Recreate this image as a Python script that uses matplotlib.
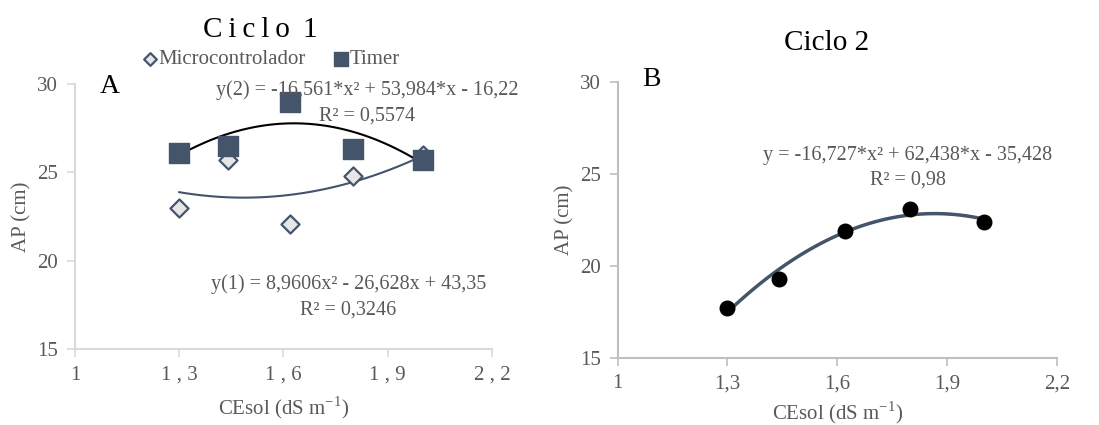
import matplotlib.pyplot as plt
import numpy as np

plt.rcParams['font.family'] = ['Liberation Serif', 'DejaVu Serif']

# Ciclo 1
ce_levels = [1.3, 1.44, 1.62, 1.8, 2.0]
ap_micro = [23.0, 25.7, 22.1, 24.8, 26.0]
ap_timer = [26.1, 26.5, 29.0, 26.3, 25.7]
coef_micro = [8.9606, -26.628, 43.35]
coef_timer = [-16.561, 53.984, -16.22]

# Ciclo 2
ap_ciclo2 = [17.7, 19.3, 21.9, 23.1, 22.4]
coef_ciclo2 = [-16.727, 62.438, -35.428]

x_ticks = [1, 1.3, 1.6, 1.9, 2.2]
x_labels_1 = ['1', '1 , 3', '1 , 6', '1 , 9', '2 , 2']
x_labels_2 = ['1', '1,3', '1,6', '1,9', '2,2']
y_ticks = [15, 20, 25, 30]

txt = '#595959'
dark = '#44546a'

fig = plt.figure(figsize=(10.99, 4.25), dpi=100)
ax1 = fig.add_axes([0.0682, 0.1788, 0.3795, 0.6236])
ax2 = fig.add_axes([0.5620, 0.1584, 0.3997, 0.6487])


def style(ax, labels, spine_col, xpad):
    ax.set_xlim(1, 2.2)
    ax.set_ylim(15, 30)
    ax.set_xticks(x_ticks)
    ax.set_xticklabels(labels)
    ax.set_yticks(y_ticks)
    for s in ['top', 'right']:
        ax.spines[s].set_visible(False)
    for s in ['left', 'bottom']:
        ax.spines[s].set_color(spine_col)
        ax.spines[s].set_linewidth(1.5)
    ax.tick_params(colors=spine_col, labelcolor=txt, labelsize=15,
                   length=6, width=1.2, direction='out', pad=6)
    ax.set_xlabel('CEsol (dS m$^{\\mathregular{-1}}$)', color=txt, fontsize=15, labelpad=xpad)
    ax.set_ylabel('AP (cm)', color=txt, fontsize=15, labelpad=4)


xs = np.linspace(ce_levels[0], ce_levels[-1], 100)

# panel A
style(ax1, x_labels_1, '#d9d9d9', 7)
ax1.plot(xs, np.polyval(coef_micro, xs), color=dark, lw=1.5, zorder=2)
ax1.plot(xs, np.polyval(coef_timer, xs), color='black', lw=1.5, zorder=2)
ax1.scatter(ce_levels, ap_micro, marker='D', s=85, facecolor='#e6e6e6',
            edgecolor=dark, linewidth=1.6, zorder=3, label='Microcontrolador')
ax1.scatter(ce_levels, ap_timer, marker='s', s=190, color=dark, zorder=3,
            label='Timer')
ax1.legend(loc='lower center', bbox_to_anchor=(0.465, 0.985), ncol=2, frameon=False,
           fontsize=15, labelcolor=txt, handletextpad=-0.2, handlelength=1.2,
           columnspacing=1.1, markerscale=0.7)
ax1.text(0.06, 0.99, 'A', transform=ax1.transAxes, fontsize=20, va='center')
ax1.text(0.70, 0.975, 'y(2) = -16,561*x² + 53,984*x - 16,22', transform=ax1.transAxes,
         color=txt, fontsize=14.5, ha='center', va='center')
ax1.text(0.70, 0.88, 'R² = 0,5574', transform=ax1.transAxes,
         color=txt, fontsize=14.5, ha='center', va='center')
ax1.text(0.655, 0.245, 'y(1) = 8,9606x² - 26,628x + 43,35', transform=ax1.transAxes,
         color=txt, fontsize=14.5, ha='center', va='center')
ax1.text(0.655, 0.148, 'R² = 0,3246', transform=ax1.transAxes,
         color=txt, fontsize=14.5, ha='center', va='center')
fig.text(260 / 1099, 1 - 30 / 425, 'C\u2009i\u2009c\u2009l\u2009o\u2009 1', fontsize=21,
         ha='center', va='center')

# panel B
style(ax2, x_labels_2, '#bfbfbf', 4)
ax2.plot(xs, np.polyval(coef_ciclo2, xs), color=dark, lw=2.5, zorder=2)
ax2.scatter(ce_levels, ap_ciclo2, marker='o', s=110, color='black', zorder=3)
ax2.text(0.055, 1.01, 'B', transform=ax2.transAxes, fontsize=20, va='center')
ax2.text(0.66, 0.735, 'y = -16,727*x² + 62,438*x - 35,428', transform=ax2.transAxes,
         color=txt, fontsize=14.5, ha='center', va='center')
ax2.text(0.66, 0.645, 'R² = 0,98', transform=ax2.transAxes,
         color=txt, fontsize=14.5, ha='center', va='center')
fig.text(827 / 1099, 1 - 43 / 425, 'Ciclo 2', fontsize=21, ha='center', va='center')

fig.savefig('out.png', dpi=100)
